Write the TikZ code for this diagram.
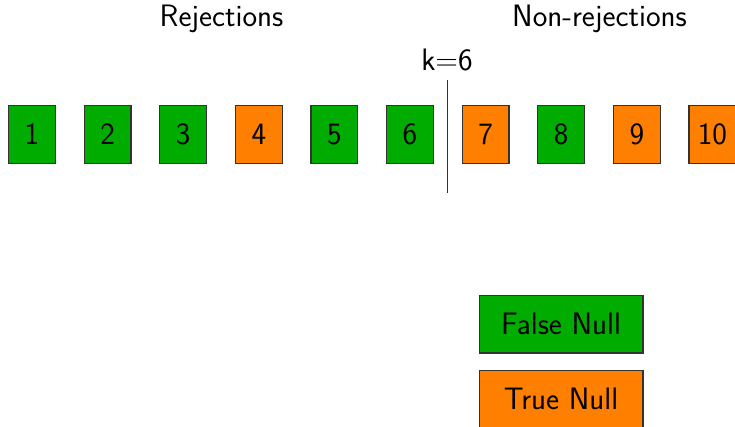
\documentclass[tikz,border=0pt]{standalone}
\usepackage{fontspec}
\definecolor{falsegreen}{RGB}{0,172,0}
\definecolor{trueorange}{RGB}{255,128,0}
\begin{document}
\begin{tikzpicture}[x=1pt,y=-1pt,
  every node/.style={font=\fontsize{31}{36}\selectfont\sffamily, text=black},
  hyp/.style={draw=black!80, line width=1.2pt, minimum width=46.8pt, minimum height=57.8pt, inner sep=0pt},
  falsenull/.style={hyp, fill=falsegreen},
  truenull/.style={hyp, fill=trueorange},
  legend/.style={draw=black!80, line width=1.2pt, minimum width=163.8pt, minimum height=57.8pt, inner sep=0pt}]
  \useasboundingbox (0,0) rectangle (735,426);
  \clip (0,0) rectangle (735,426);

  % column headings
  \node (rej) at (221.5,19) {Rejections};
  \node (nonrej) at (599.5,19) {Non-rejections};

  % ordered hypotheses, coloured by ground truth
  \foreach \i/\kind in {1/falsenull,2/falsenull,3/falsenull,4/truenull,5/falsenull,
                        6/falsenull,7/truenull,8/falsenull,9/truenull,10/truenull}
    \node[\kind] (h\i) at ({32+75.6*(\i-1)},134.5) {\i};

  % cut-off between rejected and retained hypotheses
  \coordinate (cuttop) at (447.5,80);
  \coordinate (cutbot) at (447.5,193);
  \draw[line width=1.2pt, black!80] (cuttop) -- (cutbot);
  \node (klabel) at (447,60) {k=6};

  % legend
  \node[legend, fill=falsegreen] (legfalse) at (561,324) {False Null};
  \node[legend, fill=trueorange] (legtrue) at (561,399) {True Null};
\end{tikzpicture}
\end{document}
